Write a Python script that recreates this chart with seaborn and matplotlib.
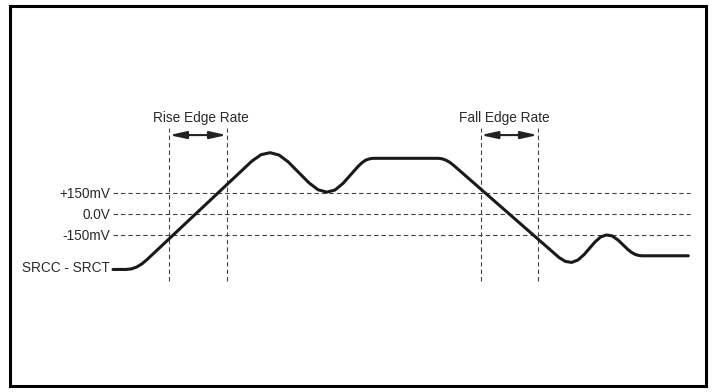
import numpy as np
import pandas as pd
import seaborn as sns
import matplotlib.pyplot as plt
from matplotlib.patches import Rectangle

# waveform SRCC - SRCT, time in arbitrary units, voltage in mV
time_pts = [0, 1.3, 1.83, 2.36, 2.88, 3.4, 13.9, 14.81, 15.71, 16.61, 17.5,
            19.6, 20.5, 21.37, 22.2, 23.0, 24.5, 24.87, 25.24, 25.62, 26.0,
            32.5, 32.89, 33.29, 33.69, 34.1, 44.6, 45.24, 45.87, 46.49, 47.1,
            48.2, 48.77, 49.35, 49.92, 50.5, 51.5, 51.84, 52.18, 52.53, 52.9, 57.53]
volt_pts = [-395, -395, -391, -378, -356, -325, 375, 420, 434, 417, 370,
            220, 171, 154, 169, 216, 336, 361, 380, 390, 394,
            394, 391, 381, 365, 342, -310, -338, -345, -328, -290,
            -200, -164, -150, -157, -186, -254, -273, -287, -295, -298, -298]

levels = [150, 0, -150]
level_labels = ["+150mV", "0.0V", "-150mV"]

rise_marks = [5.63, 11.37]
fall_marks = [36.77, 42.47]

wave = pd.DataFrame({"t": time_pts, "mV": volt_pts})

sns.set_style("white")
plt.rcParams['font.family'] = ['Liberation Sans', 'DejaVu Sans']

fig = plt.figure(figsize=(7.12, 3.92), dpi=100)
ax = fig.add_axes([0, 0, 1, 1])
ax.set_xlim(-11.3, 59.9)
ax.set_ylim(-1265, 1518)
ax.axis('off')

dash = (0, (4, 2.7))
ax.hlines(levels, 0.03, 57.7, colors='#444444', linewidth=0.8, linestyles=dash)
ax.vlines(rise_marks + fall_marks, -477, 609, colors='#444444', linewidth=0.8, linestyles=dash)

sns.lineplot(data=wave, x="t", y="mV", sort=False, estimator=None,
             color='#1a1a1a', linewidth=2.2, ax=ax, solid_joinstyle='round')
ax.set_xlabel('')
ax.set_ylabel('')

txt = '#2a2a2a'
for lv, lab in zip(levels, level_labels):
    ax.text(-0.3, lv, lab, ha='right', va='center_baseline', fontsize=9.8, color=txt)
ax.text(-0.3, -411, "SRCC - SRCT", ha='right', va='baseline', fontsize=9.8, color=txt)

ax.text(8.74, 694, "Rise Edge Rate", ha='center', va='center_baseline', fontsize=9.8, color=txt)
ax.text(39.18, 694, "Fall Edge Rate", ha='center', va='center_baseline', fontsize=9.8, color=txt)

arrow = dict(arrowstyle='<|-|>,head_length=1.0,head_width=0.22', color='#222222',
             lw=1.5, shrinkA=0, shrinkB=0)
ax.annotate('', xy=(rise_marks[1], 559), xytext=(rise_marks[0], 559), arrowprops=arrow)
ax.annotate('', xy=(fall_marks[1], 559), xytext=(fall_marks[0], 559), arrowprops=arrow)

# frame around the figure
fig.patches.append(Rectangle((9.5 / 712, (392 - 385.5) / 392), (705.5 - 9.5) / 712,
                             (385.5 - 5.5) / 392, transform=fig.transFigure,
                             fill=False, edgecolor='black', linewidth=2.2))

fig.savefig("out.png", dpi=100, facecolor='white')
